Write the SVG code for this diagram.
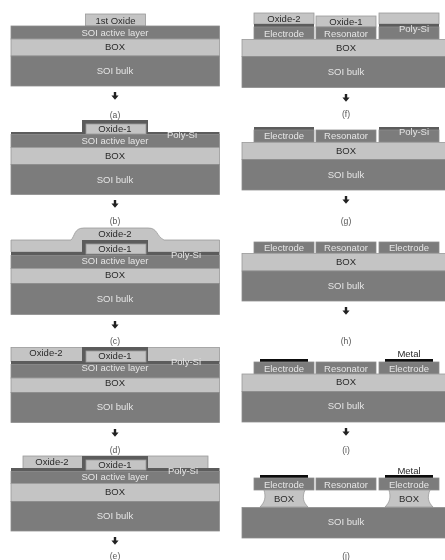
<svg xmlns="http://www.w3.org/2000/svg" width="445" height="560" viewBox="0 0 445 560">
<defs>
<filter id="soft" x="-2%" y="-2%" width="104%" height="104%"><feGaussianBlur stdDeviation="0.5"/></filter>
<path id="arrow" d="M-1.2 -4H1.2V-0.5H3.6L0 3.8L-3.6 -0.5H-1.2Z" fill="#222"/>
</defs>
<style>
text{font-family:"Liberation Sans",Arial,sans-serif;font-size:9.5px;text-anchor:middle}
.d{fill:#7b7b7b;stroke:#8e8e8e;stroke-width:.8}
.l{fill:#c4c4c4;stroke:#9a9a9a;stroke-width:.8}
.p{fill:#5c5c5c}
.m{fill:#0a0a0a}
.w{fill:#e6e6e6}
.k{fill:#2a2a2a}
.c{fill:#555;font-size:8.6px}
</style>
<rect width="445" height="560" fill="#fff"/>
<g filter="url(#soft)">
<g id="panel-a">
<rect class="l" x="85.500" y="14" width="60" height="12"/>
<rect class="d" x="11" y="26" width="208.500" height="13"/><rect class="l" x="11" y="39" width="208.500" height="17"/><rect class="d" x="11" y="56" width="208.500" height="30"/>
<text class="k" x="115.500" y="23.500">1st Oxide</text><text class="w" x="115" y="35.500">SOI active layer</text><text class="k" x="115" y="50">BOX</text><text class="w" x="115" y="74">SOI bulk</text>
<text class="c" x="115" y="118">(a)</text>
</g>
<g id="panel-b">
<path class="p" d="M11 132H82V120H148V132H219.500V135H11Z"/><rect class="l" x="86" y="124" width="60" height="10"/>
<rect class="d" x="11" y="134.500" width="208.500" height="13"/><rect class="l" x="11" y="147.500" width="208.500" height="17"/><rect class="d" x="11" y="164.500" width="208.500" height="30"/>
<text class="k" x="115" y="132">Oxide-1</text><text class="w" x="182" y="138">Poly-Si</text><text class="w" x="115" y="144">SOI active layer</text><text class="k" x="115" y="159">BOX</text><text class="w" x="115" y="183">SOI bulk</text>
<text class="c" x="115" y="224">(b)</text>
</g>
<g id="panel-c">
<path class="l" d="M11 240H71C75 236 74 228 84 228H148C158 228 156 236 164 240H219.500V252H11Z"/>
<path class="p" d="M11 252H82V240H148V252H219.500V256H11Z"/><rect class="l" x="86" y="244" width="60" height="10"/>
<rect class="d" x="11" y="255.500" width="208.500" height="13"/><rect class="l" x="11" y="268.500" width="208.500" height="15"/><rect class="d" x="11" y="283.500" width="208.500" height="31"/>
<text class="k" x="115" y="237">Oxide-2</text><text class="k" x="115" y="252">Oxide-1</text><text class="w" x="186" y="258">Poly-Si</text><text class="w" x="115" y="264">SOI active layer</text><text class="k" x="115" y="278">BOX</text><text class="w" x="115" y="302">SOI bulk</text>
<text class="c" x="115" y="344">(c)</text>
</g>
<g id="panel-d">
<rect class="l" x="11" y="347.500" width="208.500" height="14"/>
<path class="p" d="M11 361H82V347H148V361H219.500V365H11Z"/><rect class="l" x="86" y="351" width="60" height="11"/>
<rect class="d" x="11" y="364.500" width="208.500" height="13.500"/><rect class="l" x="11" y="378" width="208.500" height="14.500"/><rect class="d" x="11" y="392.500" width="208.500" height="30"/>
<text class="k" x="46" y="356">Oxide-2</text><text class="k" x="115" y="359">Oxide-1</text><text class="w" x="186" y="365">Poly-Si</text><text class="w" x="115" y="371">SOI active layer</text><text class="k" x="115" y="386">BOX</text><text class="w" x="115" y="410">SOI bulk</text>
<text class="c" x="115" y="453">(d)</text>
</g>
<g id="panel-e">
<rect class="l" x="23" y="456" width="185" height="13"/>
<path class="p" d="M11 468H82V456H148V468H219.500V472H11Z"/><rect class="l" x="86" y="460" width="60" height="10"/>
<rect class="d" x="11" y="471.500" width="208.500" height="12"/><rect class="l" x="11" y="483.500" width="208.500" height="18"/><rect class="d" x="11" y="501.500" width="208.500" height="29.500"/>
<text class="k" x="52" y="465">Oxide-2</text><text class="k" x="115" y="468">Oxide-1</text><text class="w" x="183" y="474">Poly-Si</text><text class="w" x="115" y="480">SOI active layer</text><text class="k" x="115" y="495">BOX</text><text class="w" x="115" y="519">SOI bulk</text>
<text class="c" x="115" y="559">(e)</text>
</g>
<g id="panel-f">
<rect class="l" x="254" y="13" width="60" height="11"/><rect class="l" x="316" y="16" width="60" height="11"/><rect class="l" x="379" y="13" width="60" height="11"/>
<rect class="p" x="254" y="24" width="60" height="3"/><rect class="p" x="379" y="24" width="60" height="3"/>
<rect class="d" x="254" y="27" width="60" height="12"/><rect class="d" x="316" y="27" width="60" height="12"/><rect class="d" x="379" y="27" width="60" height="12"/>
<rect class="l" x="242" y="39.500" width="204" height="17"/><rect class="d" x="242" y="56.500" width="204" height="31"/>
<text class="k" x="284" y="21.500">Oxide-2</text><text class="k" x="346" y="24.500">Oxide-1</text><text class="w" x="414" y="32">Poly-Si</text><text class="w" x="284" y="36.500">Electrode</text><text class="w" x="346" y="36.500">Resonator</text><text class="k" x="346" y="51">BOX</text><text class="w" x="346" y="75">SOI bulk</text>
<text class="c" x="346" y="117">(f)</text>
</g>
<g id="panel-g">
<rect class="p" x="254" y="127" width="60" height="3"/><rect class="p" x="379" y="127" width="60" height="3"/>
<rect class="d" x="254" y="130" width="60" height="12"/><rect class="d" x="316" y="130" width="60" height="12"/><rect class="d" x="379" y="130" width="60" height="12"/>
<rect class="l" x="242" y="142.500" width="204" height="17"/><rect class="d" x="242" y="159.500" width="204" height="30.500"/>
<text class="w" x="414" y="135">Poly-Si</text><text class="w" x="284" y="139">Electrode</text><text class="w" x="346" y="139">Resonator</text><text class="k" x="346" y="154">BOX</text><text class="w" x="346" y="178">SOI bulk</text>
<text class="c" x="346" y="224">(g)</text>
</g>
<g id="panel-h">
<rect class="d" x="254" y="242" width="60" height="11"/><rect class="d" x="316" y="242" width="60" height="11"/><rect class="d" x="379" y="242" width="60" height="11"/>
<rect class="l" x="242" y="253.500" width="204" height="17.500"/><rect class="d" x="242" y="271" width="204" height="30"/>
<text class="w" x="284" y="250.500">Electrode</text><text class="w" x="346" y="250.500">Resonator</text><text class="w" x="409" y="250.500">Electrode</text><text class="k" x="346" y="265">BOX</text><text class="w" x="346" y="289">SOI bulk</text>
<text class="c" x="346" y="344">(h)</text>
</g>
<g id="panel-i">
<rect class="m" x="260" y="359" width="48" height="3.500"/><rect class="m" x="385" y="359" width="48" height="3.500"/>
<rect class="d" x="254" y="362" width="60" height="12"/><rect class="d" x="316" y="362" width="60" height="12"/><rect class="d" x="379" y="362" width="60" height="12"/>
<rect class="l" x="242" y="374" width="204" height="17.500"/><rect class="d" x="242" y="391.500" width="204" height="30.500"/>
<text class="k" x="409" y="357">Metal</text><text class="w" x="284" y="371.500">Electrode</text><text class="w" x="346" y="371.500">Resonator</text><text class="w" x="409" y="371.500">Electrode</text><text class="k" x="346" y="385">BOX</text><text class="w" x="346" y="409">SOI bulk</text>
<text class="c" x="346" y="453">(i)</text>
</g>
<g id="panel-j">
<rect class="m" x="260" y="475" width="48" height="3.500"/><rect class="m" x="385" y="475" width="48" height="3.500"/>
<rect class="d" x="254" y="478" width="60" height="12"/><rect class="d" x="316" y="478" width="60" height="12"/><rect class="d" x="379" y="478" width="60" height="12"/>
<path class="l" d="M264 490H305C302 497 303 502 308 507H260C265 502 266 497 264 490Z"/>
<path class="l" d="M389 490H430C427 497 428 502 433 507H385C390 502 391 497 389 490Z"/>
<rect class="d" x="242" y="507.500" width="204" height="30.500"/>
<text class="k" x="409" y="473.500">Metal</text><text class="w" x="284" y="487.500">Electrode</text><text class="w" x="346" y="487.500">Resonator</text><text class="w" x="409" y="487.500">Electrode</text><text class="k" x="284" y="501.500">BOX</text><text class="k" x="409" y="501.500">BOX</text><text class="w" x="346" y="525">SOI bulk</text>
<text class="c" x="346" y="559">(j)</text>
</g>
<g id="connectors">
<use href="#arrow" x="115" y="96"/><use href="#arrow" x="115" y="204"/><use href="#arrow" x="115" y="325"/><use href="#arrow" x="115" y="433"/><use href="#arrow" x="115" y="541"/>
<use href="#arrow" x="346" y="98"/><use href="#arrow" x="346" y="200"/><use href="#arrow" x="346" y="311"/><use href="#arrow" x="346" y="432"/>
</g>
</g>
</svg>
